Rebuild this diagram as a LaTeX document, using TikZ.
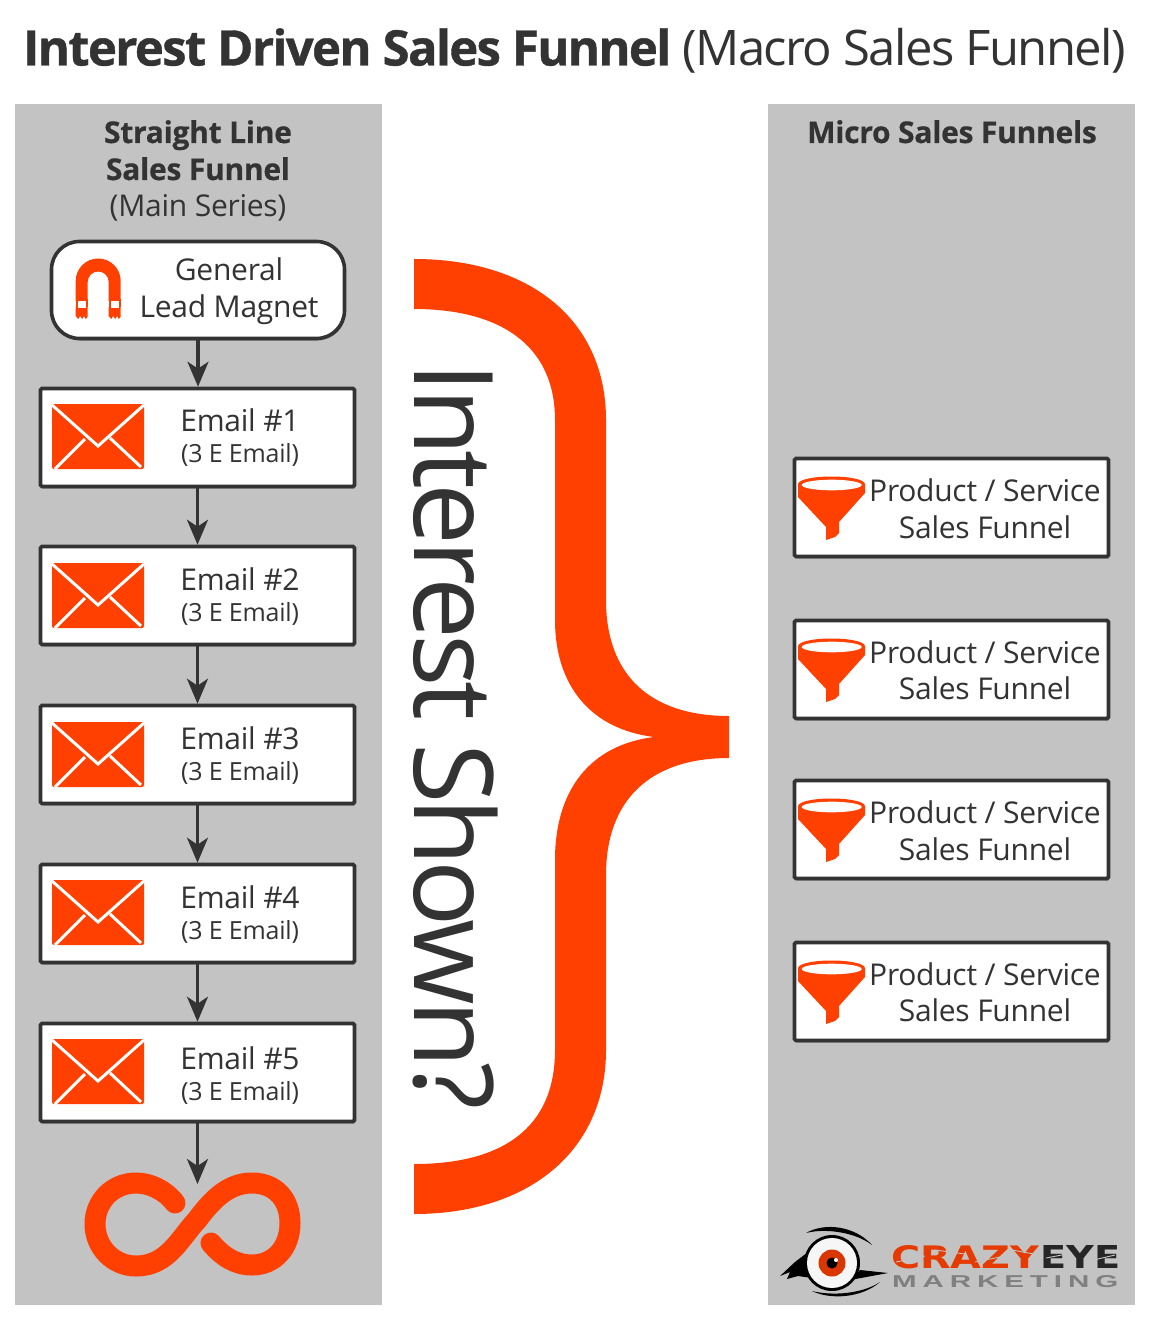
\documentclass[tikz,border=0pt]{standalone}
\usepackage{fontspec}
\usepackage{graphicx}
\setmainfont{Open Sans}[LetterSpace=-0.9]
\newfontfamily\logofont{DejaVu Sans}
\newfontfamily\markfont[LetterSpace=20]{Liberation Sans}
\usetikzlibrary{arrows.meta,shadows}
\definecolor{panelgray}{HTML}{C3C3C3}
\definecolor{ink}{HTML}{333333}
\definecolor{hot}{HTML}{FF4000}
\newcommand{\fs}[1]{\fontsize{#1}{#1}\selectfont}
\tikzset{
  x=1pt,y=-1pt,
  panel/.style={fill=panelgray,draw=none},
  softshadow/.style={drop shadow={shadow xshift=1pt,shadow yshift=-2pt,opacity=.3,fill=black}},
  itembox/.style={draw=ink,line width=3.6pt,outer sep=0pt,fill=white,rounded corners=1.5pt,minimum width=314pt,minimum height=98pt,inner sep=0pt,softshadow,anchor=north west},
  magnetbox/.style={draw=ink,line width=3.6pt,outer sep=0pt,fill=white,rounded corners=28pt,minimum width=293pt,minimum height=97pt,inner sep=0pt,softshadow,anchor=north west},
  flow/.style={draw=ink,line width=3.2pt,-{Stealth[length=25pt,width=21pt,inset=7pt]},shorten >=1.8pt},
  lbl/.style={text=ink,inner sep=0pt,align=center,anchor=base},
  big/.style={lbl,font=\fs{30}},
  small/.style={lbl,font=\fs{25}},
  head/.style={lbl,font=\fs{30}\bfseries\addfontfeature{FakeBold=0.5}},
  headthin/.style={lbl,font=\fs{30}},
  scratch/.style={panelgray,line width=0.9pt},
}
\newcommand{\envelope}[1]{%
  \begin{scope}[shift={(0,#1)}]
    \fill[hot,rounded corners=2pt] (52,0) rectangle (144,65);
    \draw[white,line width=3pt] (52,1) -- (98,42) -- (144,1);
    \draw[white,line width=3pt] (55,65) -- (85,35);
    \draw[white,line width=3pt] (141,63) -- (110,34);
  \end{scope}}
\newcommand{\funnel}[1]{%
  \begin{scope}[shift={(0,#1)}]
    \fill[hot] (798,27) .. controls (800,17) and (863,17) .. (865,27)
      -- (865,36) -- (839,65) -- (839,76) -- (835,80) -- (826,83) -- (826,70) -- (798,40) -- cycle;
    \fill[white] (831.7,28) ellipse [x radius=30pt,y radius=5.3pt];
  \end{scope}}
\begin{document}
\begin{tikzpicture}
\useasboundingbox (0,0) rectangle (1150,1321);
\fill[white] (0,0) rectangle (1150,1321);
% panels
\fill[panel] (15,104) rectangle (382,1305);
\fill[panel] (768,104) rectangle (1135,1305);
% title
\node[lbl,anchor=base west,font=\fs{49}\bfseries\addfontfeature{LetterSpace=-3.35,FakeBold=0.8}] (titleA) at (23,65.5) {Interest Driven Sales Funnel};
\node[lbl,anchor=base east,font=\fs{49}\addfontfeature{LetterSpace=-3.3}] (titleB) at (1126,65.5) {(Macro Sales Funnel)};
% headings
\node[head] (h1) at (198,143) {Straight Line};
\node[head] (h2) at (198,180) {Sales Funnel};
\node[headthin] (h3) at (198,216.5) {(Main Series)};
\node[head] (h4) at (952,143) {Micro Sales Funnels};
% boxes
\node[magnetbox] (mag) at (51.5,241.5) {};
\node[itembox] (e1) at (40.5,388.5) {};
\node[itembox] (e2) at (40.5,546.5) {};
\node[itembox] (e3) at (40.5,705.5) {};
\node[itembox] (e4) at (40.5,864.5) {};
\node[itembox] (e5) at (40.5,1023.5) {};
\node[itembox] (p1) at (794.5,458.5) {};
\node[itembox] (p2) at (794.5,620.5) {};
\node[itembox] (p3) at (794.5,780.5) {};
\node[itembox] (p4) at (794.5,942.5) {};
% connectors
\coordinate (inf) at (198,1184);
\draw[flow] (mag.south) -- (mag.south |- e1.north);
\draw[flow] (e1.south) -- (e2.north);
\draw[flow] (e2.south) -- (e3.north);
\draw[flow] (e3.south) -- (e4.north);
\draw[flow] (e4.south) -- (e5.north);
\draw[flow,shorten >=0pt] (e5.south) -- (e5.south |- inf);
% magnet
\fill[hot] (75.7,301) -- (75.7,281) arc[start angle=180,end angle=0,radius=22.5pt] -- (120.7,301) -- (108.7,301) -- (108.7,282) arc[start angle=0,end angle=180,radius=10.5pt] -- (87.7,301) -- cycle;
\foreach \xa in {75.7,108.7}{
  \fill[hot] (\xa,299) rectangle ++(12,8);
  \fill[hot] (\xa,307) -- ++(12,0) -- ++(0,10) -- ++(-2,2) -- ++(-1.5,-3) -- ++(-2,3) -- ++(-2,-3) -- ++(-2,3) -- ++(-2.5,-3) -- cycle;
  \fill[white] (\xa+1.8,301) rectangle ++(8.2,6.5);
}
\node[big] (m1) at (229,281) {General};
\node[big] (m2) at (229,317) {Lead Magnet};
% emails
\envelope{404}\envelope{563}\envelope{722}\envelope{880}\envelope{1039}
\node[big] (t1) at (240,431) {Email \#1};
\node[small] (s1) at (240,462) {(3 E Email)};
\node[big] (t2) at (240,590) {Email \#2};
\node[small] (s2) at (240,621) {(3 E Email)};
\node[big] (t3) at (240,749) {Email \#3};
\node[small] (s3) at (240,780) {(3 E Email)};
\node[big] (t4) at (240,908) {Email \#4};
\node[small] (s4) at (240,939) {(3 E Email)};
\node[big] (t5) at (240,1069) {Email \#5};
\node[small] (s5) at (240,1100) {(3 E Email)};
% funnels
\funnel{457}\funnel{619}\funnel{779}\funnel{941}
\node[big] (q1) at (985,501.5) {Product / Service};
\node[big] (r1) at (985,538) {Sales Funnel};
\node[big] (q2) at (985,663) {Product / Service};
\node[big] (r2) at (985,699.5) {Sales Funnel};
\node[big] (q3) at (985,823.5) {Product / Service};
\node[big] (r3) at (985,860) {Sales Funnel};
\node[big] (q4) at (985,985) {Product / Service};
\node[big] (r4) at (985,1021.5) {Sales Funnel};
% infinity
\draw[hot,line width=21pt,line cap=round]
  (175,1203) .. controls (165,1190) and (150,1183) .. (136,1183)
  .. controls (112,1183) and (95,1202) .. (95,1224)
  .. controls (95,1247) and (113,1266) .. (136,1266)
  .. controls (168,1266) and (180,1238) .. (197,1220)
  .. controls (212,1200) and (228,1183) .. (252,1183)
  .. controls (276,1183) and (290,1200) .. (290,1223)
  .. controls (290,1248) and (274,1265) .. (252,1265)
  .. controls (235,1265) and (222,1256) .. (211,1243);
% brace
\fill[hot] (414,259) .. controls (530,259) and (606,320) .. (606,420)
  -- (606,600) .. controls (606,675) and (650,716) .. (729,716)
  -- (729,758) .. controls (650,758) and (606,800) .. (606,875)
  -- (606,1050) .. controls (606,1150) and (530,1214) .. (414,1214)
  -- (414,1164) .. controls (500,1164) and (555,1130) .. (555,1050)
  -- (555,860) .. controls (555,790) and (590,745) .. (654,737)
  .. controls (590,729) and (555,685) .. (555,620)
  -- (555,420) .. controls (555,345) and (500,309) .. (414,309) -- cycle;
\node[text=ink,inner sep=0pt,anchor=center,rotate=-90,font=\fs{110}\addfontfeature{LetterSpace=-4.8}] (shown) at (455.5,736) {Interest Shown?};
% logo
\fill[black] (832,1263) circle [radius=28pt];
\fill[black] (808,1252) -- (795,1262) -- (780,1276) -- (790,1272) -- (787,1279) -- (798,1276) -- (812,1278) -- cycle;
\fill[black] (850,1280) -- (888,1273) -- (860,1270) -- cycle;
\fill[black] (806,1233) .. controls (825,1222) and (855,1226) .. (872,1245) .. controls (855,1232) and (825,1228) .. (806,1233) -- cycle;
\fill[black] (812,1291) .. controls (830,1300) and (862,1298) .. (880,1282) .. controls (862,1294) and (832,1296) .. (812,1291) -- cycle;
\fill[white!93!gray] (832,1263) circle [radius=25pt];
\fill[hot!85!black] (832,1263) circle [radius=13.5pt];
\fill[black] (832,1263) circle [radius=5.5pt];
\fill[white] (836,1260) circle [radius=2pt];
\node[inner sep=0pt,anchor=north west,text=hot!90!black] (crazy) at (891,1245) {\resizebox{148pt}{23pt}{\logofont\bfseries CRAZY}};
\node[inner sep=0pt,anchor=north west,text=black!85] (eye) at (1040,1245) {\resizebox{80pt}{23pt}{\logofont\bfseries EYE}};
\node[inner sep=0pt,anchor=north west,text=black!50] (mk) at (892,1275) {\resizebox{226pt}{12pt}{\markfont\bfseries MARKETING}};
\draw[scratch] (896,1262) -- (925,1256) (935,1250) -- (965,1254) (975,1262) -- (1005,1256) (1012,1250) -- (1034,1254) (1046,1258) -- (1072,1253) (1085,1262) -- (1115,1255);
\end{tikzpicture}
\end{document}
